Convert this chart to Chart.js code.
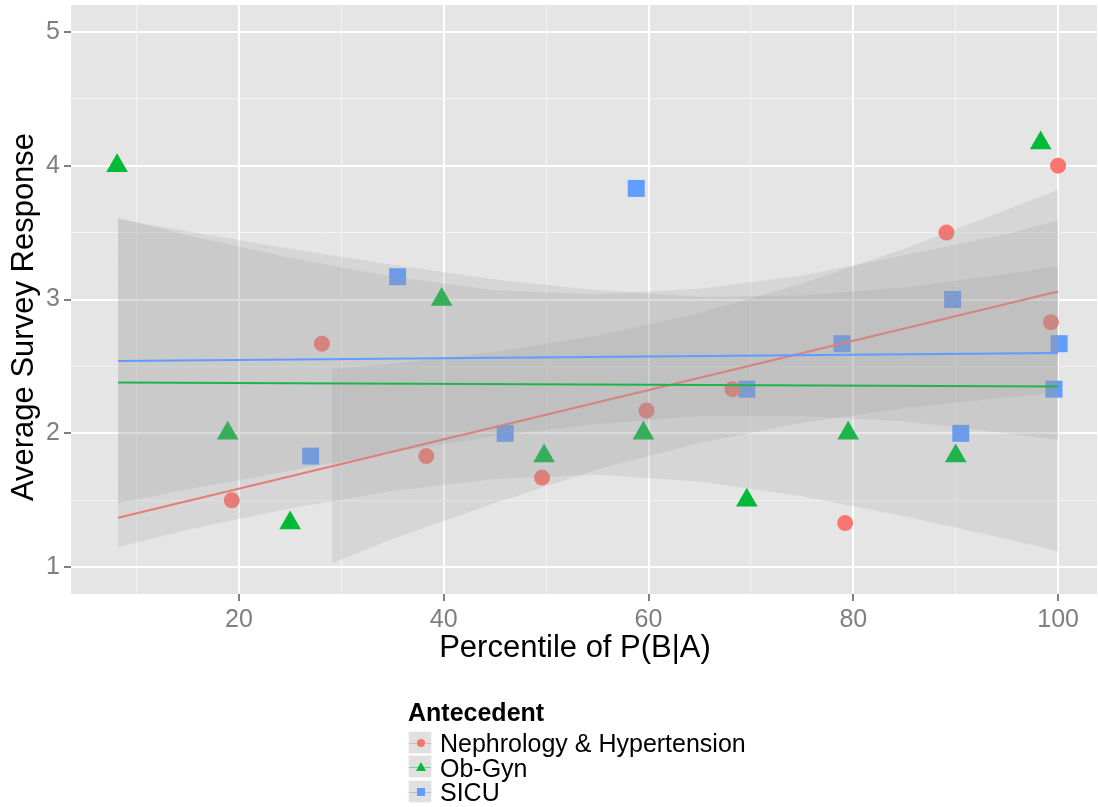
<!DOCTYPE html>
<html>
<head>
<meta charset="utf-8">
<script src="https://cdn.jsdelivr.net/npm/chart.js@4.4.0/dist/chart.umd.min.js"></script>
<style>
	body { margin: 0; background: #fff; font-family: "Liberation Sans", Arial, sans-serif; }
	#wrap { position: relative; width: 1098px; height: 807px; }
	#legend { position: absolute; left: 408px; top: 700px; color: #000; }
	.legend-title { font-weight: bold; font-size: 25px; line-height: 25px; height: 30px; }
	.legend-row { display: flex; align-items: center; height: 24.5px; }
	.key { position: relative; width: 24px; height: 23px; background: #E0E0E0; border: 0.5px solid #F5F5F5; margin-right: 8px; box-sizing: border-box; }
	.key-line { position: absolute; left: 0; right: 0; top: 11px; height: 1px; opacity: 0.45; }
	.key-mark { position: absolute; }
	.legend-label { font-size: 25px; line-height: 24px; position: relative; top: 1px; }
</style>
</head>
<body>
<div id="wrap">
	<canvas id="surveyScatter" width="1098" height="807"></canvas>
	<div id="legend"></div>
</div>
<script>
// ---- data ----
const seriesNames = ["Nephrology & Hypertension", "Ob-Gyn", "SICU"];
const seriesColors = ["#F8766D", "#00BA38", "#619CFF"];

const nephX = [19.3, 28.1, 38.3, 49.6, 59.8, 68.2, 79.2, 89.1, 99.3, 100.0];
const nephY = [1.5, 2.67, 1.83, 1.67, 2.17, 2.33, 1.33, 3.5, 2.83, 4.0];

const obgynX = [8.1, 18.9, 25.0, 39.8, 49.8, 59.5, 69.6, 79.5, 90.0, 98.3];
const obgynY = [4.0, 2.0, 1.33, 3.0, 1.83, 2.0, 1.5, 2.0, 1.83, 4.17];

const sicuX = [27.0, 35.5, 46.0, 58.8, 69.6, 78.9, 89.7, 90.5, 100.1, 99.6];
const sicuY = [1.83, 3.17, 2.0, 3.83, 2.33, 2.67, 3.0, 2.0, 2.67, 2.33];

// fitted lines (ends)
const fitX = [8.2, 100];
const nephFit = [1.37, 3.06];
const obgynFit = [2.38, 2.35];
const sicuFit = [2.54, 2.60];

// confidence bands, edges read at a few x positions
const nephBandX = [29.1, 35, 45, 55, 65, 75, 85, 95, 100];
const nephUpper = [2.48, 2.52, 2.61, 2.73, 2.90, 3.12, 3.38, 3.67, 3.82];
const nephLower = [1.03, 1.21, 1.48, 1.73, 1.93, 2.08, 2.19, 2.27, 2.30];

const bandX = [8.2, 15, 25, 35, 45, 55, 65, 75, 85, 95, 100];
const obgynUpper = [3.61, 3.48, 3.31, 3.17, 3.07, 3.04, 3.08, 3.18, 3.33, 3.49, 3.59];
const obgynLower = [1.15, 1.28, 1.44, 1.57, 1.66, 1.69, 1.64, 1.53, 1.38, 1.21, 1.12];
const sicuUpper = [3.60, 3.51, 3.38, 3.26, 3.15, 3.07, 3.02, 3.03, 3.09, 3.19, 3.25];
const sicuLower = [1.48, 1.58, 1.72, 1.86, 1.98, 2.07, 2.13, 2.13, 2.09, 2.00, 1.95];

const xMajor = [20, 40, 60, 80, 100];
const xMinor = [10, 30, 50, 70, 90];
const yMajor = [1, 2, 3, 4, 5];
const yMinor = [1.5, 2.5, 3.5, 4.5];

const xTitle = "Percentile of P(B|A)";
const yTitle = "Average Survey Response";

// ---- helpers ----
const toPoints = (xs, ys) => xs.map((x, i) => ({ x: x, y: ys[i] }));
const FONT = "'Liberation Sans', Arial, sans-serif";
const bandFill = "rgba(153,153,153,0.2)";
const clear = "rgba(0,0,0,0)";

const pointSet = (i, style, radius, xs, ys) => ({
	label: seriesNames[i],
	data: toPoints(xs, ys),
	pointStyle: style,
	pointRadius: radius,
	pointBackgroundColor: seriesColors[i],
	pointBorderWidth: 0,
	showLine: false,
	order: 10,
});

const bandSets = (xs, up, lo, order) => [
	{ data: toPoints(xs, up), showLine: true, borderColor: clear, borderWidth: 0, pointRadius: 0, fill: "+1", backgroundColor: bandFill, order: order },
	{ data: toPoints(xs, lo), showLine: true, borderColor: clear, borderWidth: 0, pointRadius: 0, fill: false, order: order },
];

const fitSet = (i, ys, order) => ({
	data: toPoints(fitX, ys),
	showLine: true,
	borderColor: seriesColors[i],
	borderWidth: 2,
	pointRadius: 0,
	fill: false,
	order: order,
});

const gridOpts = (majors) => ({
	color: (ctx) => (majors.includes(ctx.tick.value) ? "#FFFFFF" : "#F2F2F2"),
	lineWidth: (ctx) => (majors.includes(ctx.tick.value) ? 2 : 1),
	tickColor: (ctx) => (majors.includes(ctx.tick.value) ? "#7F7F7F" : clear),
	tickLength: 7,
	tickWidth: 2,
});

// ---- chart ----
const ctx = document.getElementById("surveyScatter").getContext("2d");

new Chart(ctx, {
	type: "scatter",
	data: {
		datasets: [
			fitSet(2, sicuFit, 0),
			...bandSets(bandX, sicuUpper, sicuLower, 1),
			fitSet(1, obgynFit, 2),
			...bandSets(bandX, obgynUpper, obgynLower, 3),
			fitSet(0, nephFit, 4),
			...bandSets(nephBandX, nephUpper, nephLower, 5),
			pointSet(0, "circle", 8, nephX, nephY),
			pointSet(1, "triangle", 12.5, obgynX, obgynY),
			pointSet(2, "rect", 12, sicuX, sicuY),
		],
	},
	options: {
		responsive: false,
		animation: false,
		events: [],
		layout: { autoPadding: false, padding: { top: 5, right: 1, left: 0, bottom: 0 } },
		plugins: {
			legend: { display: false },
			tooltip: { enabled: false },
			filler: { propagate: false },
		},
		scales: {
			x: {
				type: "linear",
				min: 3.6,
				max: 103.8,
				afterBuildTicks: (scale) => {
					scale.ticks = [...xMinor, ...xMajor].sort((a, b) => a - b).map((v) => ({ value: v }));
				},
				afterFit: (scale) => {
					scale.height = 213;
					scale.paddingLeft = 0; // keep the panel flush with the right edge
					scale.paddingRight = 0;
				},
				grid: gridOpts(xMajor),
				border: { display: false },
				ticks: {
					autoSkip: false,
					maxRotation: 0,
					padding: 4,
					color: "#7F7F7F",
					font: { family: FONT, size: 25 },
					callback: (v) => (xMajor.includes(v) ? String(v) : ""),
				},
			},
			y: {
				type: "linear",
				min: 0.8,
				max: 5.2,
				afterBuildTicks: (scale) => {
					scale.ticks = [...yMajor, ...yMinor].sort((a, b) => a - b).map((v) => ({ value: v }));
				},
				afterFit: (scale) => {
					scale.width = 71;
					scale.paddingTop = 0;
					scale.paddingBottom = 0;
				},
				grid: gridOpts(yMajor),
				border: { display: false },
				ticks: {
					autoSkip: false,
					padding: 4,
					color: "#7F7F7F",
					font: { family: FONT, size: 25 },
					callback: (v) => (yMajor.includes(v) ? String(v) : ""),
				},
			},
		},
	},
	plugins: [
		{
			id: "panelBackground",
			beforeDraw: (chart) => {
				const { ctx, chartArea: a } = chart;
				ctx.save();
				ctx.fillStyle = "#E5E5E5";
				ctx.fillRect(a.left, a.top, a.right - a.left, a.bottom - a.top);
				ctx.restore();
			},
		},
		{
			// axis titles sit a little off the panel centre in the picture
			id: "axisTitles",
			afterDraw: (chart) => {
				const c = chart.ctx;
				c.save();
				c.fillStyle = "#000";
				c.font = "31px " + FONT;
				c.textAlign = "center";
				c.textBaseline = "middle";
				c.fillText(xTitle, 575, 648);
				c.translate(24, 317);
				c.rotate(-Math.PI / 2);
				c.fillText(yTitle, 0, 0);
				c.restore();
			},
		},
	],
});

// ---- legend ----
const keyMarks = [
	'<span class="key-mark" style="left:8px;top:7px;width:8px;height:8px;border-radius:50%;background:' + seriesColors[0] + '"></span>',
	'<span class="key-mark" style="left:7px;top:6px;width:0;height:0;border-left:5px solid transparent;border-right:5px solid transparent;border-bottom:9px solid ' + seriesColors[1] + '"></span>',
	'<span class="key-mark" style="left:8px;top:7px;width:8px;height:8px;background:' + seriesColors[2] + '"></span>',
];
const legend = document.getElementById("legend");
let html = '<div class="legend-title">Antecedent</div>';
seriesNames.forEach((name, i) => {
	html += '<div class="legend-row"><span class="key"><span class="key-line" style="background:' + seriesColors[i] + '"></span>' +
		keyMarks[i] + '</span><span class="legend-label"></span></div>';
});
legend.innerHTML = html;
legend.querySelectorAll(".legend-label").forEach((el, i) => { el.textContent = seriesNames[i]; });
</script>
</body>
</html>
